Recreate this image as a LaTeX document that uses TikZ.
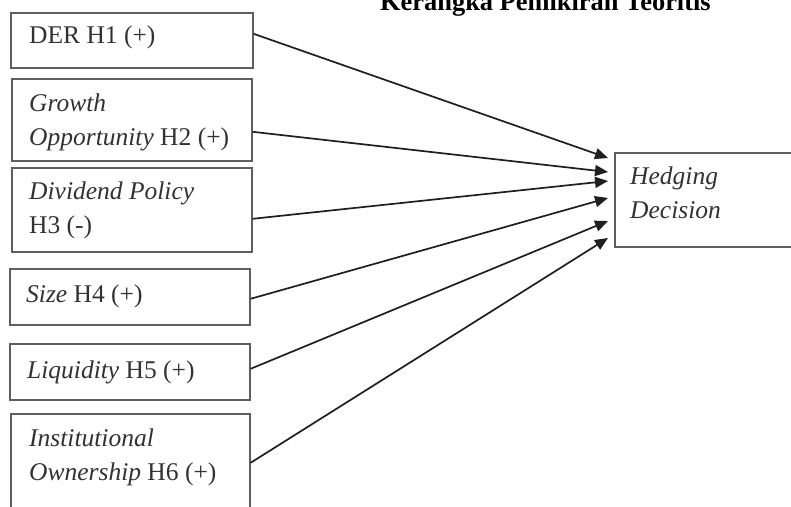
\documentclass[tikz,border=0pt]{standalone}
\usepackage{fontspec}
\setmainfont{Liberation Serif}
\usetikzlibrary{arrows.meta}
\definecolor{boxgray}{RGB}{95,95,95}
\definecolor{txtgray}{RGB}{50,50,50}
\begin{document}
\begin{tikzpicture}[x=1pt,y=-1pt,
  box/.style={draw=boxgray, line width=1.6pt, inner sep=0pt, anchor=north west},
  lbl/.style={anchor=base west, inner sep=0pt, text=txtgray, align=left,
              font=\fontsize{25.5}{34}\selectfont},
  arr/.style={-{Triangle[length=13pt,width=11pt]}, line width=1.7pt, draw=black!88},
]
\useasboundingbox (0,0) rectangle (791,506);
\fill[white] (0,0) rectangle (791,506);
\clip (0,0) rectangle (791,506);

% title
\node[anchor=base west, inner sep=0pt, font=\bfseries\fontsize{26.4}{30}\selectfont] (title) at (380,10) {Kerangka Pemikiran Teoritis};

% boxes
\node[box, minimum width=242, minimum height=55] (b1) at (10,12) {};
\node[box, minimum width=240, minimum height=82] (b2) at (11,78) {};
\node[box, minimum width=240, minimum height=84] (b3) at (11,167) {};
\node[box, minimum width=240, minimum height=56] (b4) at (9,268) {};
\node[box, minimum width=240, minimum height=56] (b5) at (9,343) {};
\node[box, minimum width=239, minimum height=120] (b6) at (10,413) {};
\node[box, minimum width=206, minimum height=94] (hd) at (614,152) {};

% texts (multi-line nodes: base = last line)
\node[lbl] (t1) at (29,43) {DER H1 (+)};
\node[lbl] (t2) at (29,145) {\textit{Growth}\\\textit{Opportunity} H2 (+)};
\node[lbl] (t3) at (29,233) {\textit{Dividend Policy}\\H3 (-)};
\node[lbl] (t4) at (26,302) {\textit{Size} H4 (+)};
\node[lbl] (t5) at (27,378) {\textit{Liquidity} H5 (+)};
\node[lbl] (t6) at (29,480) {\textit{Institutional}\\\textit{Ownership} H6 (+)};
\node[lbl] (th) at (630,218) {\textit{Hedging}\\\textit{Decision}};

% arrow tips
\coordinate (e1) at (608,158);
\coordinate (e2) at (608,172);
\coordinate (e3) at (608,181);
\coordinate (e4) at (608,198);
\coordinate (e5) at (608,221);
\coordinate (e6) at (608,238);

\draw[arr] ([yshift=6.5pt]b1.east) -- (e1);
\draw[arr] ([yshift=-12pt]b2.east) -- (e2);
\draw[arr] ([yshift=-9pt]b3.east) -- (e3);
\draw[arr] ([yshift=-2pt]b4.east) -- (e4);
\draw[arr] ([yshift=3pt]b5.east) -- (e5);
\draw[arr] ([yshift=11pt]b6.east) -- (e6);
\end{tikzpicture}
\end{document}
